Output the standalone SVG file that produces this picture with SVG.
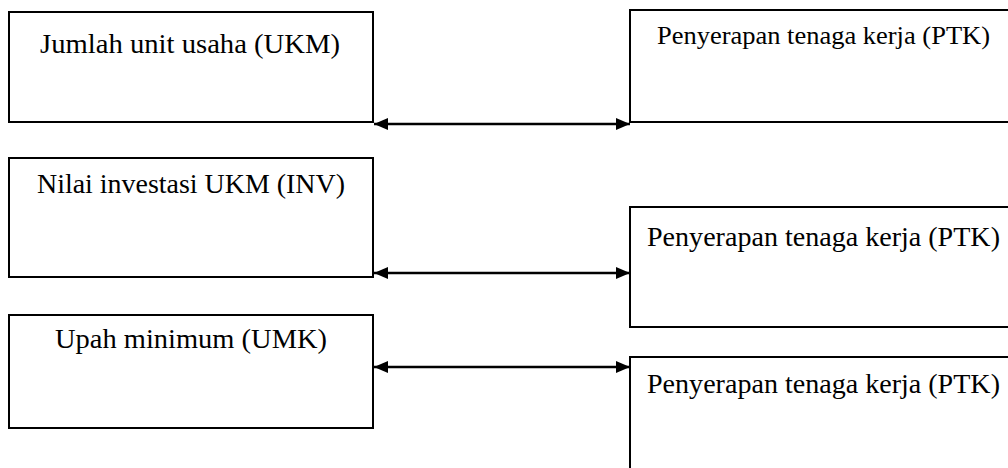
<svg xmlns="http://www.w3.org/2000/svg" width="1008" height="468" viewBox="0 0 1008 468">
  <style>
    .box { fill: #ffffff; stroke: #000000; stroke-width: 2; }
    .lbl { font-family: 'Liberation Serif', 'DejaVu Serif', 'Times New Roman', serif; fill: #000000; }
    .conn { stroke: #000000; stroke-width: 2.5; fill: none; }
  </style>
  <defs>
    <marker id="arr" viewBox="0 0 14 12" refX="14" refY="6" markerWidth="14" markerHeight="12" markerUnits="userSpaceOnUse" orient="auto-start-reverse">
      <path d="M0,0 L14,6 L0,12 Z" fill="#000000"/>
    </marker>
  </defs>
  <rect x="0" y="0" width="1008" height="468" fill="#ffffff"/>

  <g id="node-ukm">
    <rect class="box" x="9" y="12" width="364" height="110"/>
    <text class="lbl" font-family="Liberation Serif, serif" x="40" y="53" font-size="28" textLength="300" lengthAdjust="spacingAndGlyphs">Jumlah unit usaha (UKM)</text>
  </g>
  <g id="node-ptk1">
    <rect class="box" x="630" y="10" width="400" height="112"/>
    <text class="lbl" font-family="Liberation Serif, serif" x="657" y="44" font-size="26" textLength="333" lengthAdjust="spacingAndGlyphs">Penyerapan tenaga kerja (PTK)</text>
  </g>
  <g id="node-inv">
    <rect class="box" x="9" y="158" width="364" height="119"/>
    <text class="lbl" font-family="Liberation Serif, serif" x="37" y="193" font-size="28" textLength="308" lengthAdjust="spacingAndGlyphs">Nilai investasi UKM (INV)</text>
  </g>
  <g id="node-ptk2">
    <rect class="box" x="630" y="207" width="400" height="120"/>
    <text class="lbl" font-family="Liberation Serif, serif" x="647" y="246" font-size="28" textLength="353" lengthAdjust="spacingAndGlyphs">Penyerapan tenaga kerja (PTK)</text>
  </g>
  <g id="node-umk">
    <rect class="box" x="9" y="315" width="364" height="113"/>
    <text class="lbl" font-family="Liberation Serif, serif" x="55" y="348" font-size="28" textLength="272" lengthAdjust="spacingAndGlyphs">Upah minimum (UMK)</text>
  </g>
  <g id="node-ptk3">
    <rect class="box" x="630" y="357" width="400" height="130"/>
    <text class="lbl" font-family="Liberation Serif, serif" x="647" y="393" font-size="28" textLength="353" lengthAdjust="spacingAndGlyphs">Penyerapan tenaga kerja (PTK)</text>
  </g>

  <g id="connectors">
    <line class="conn" x1="374" y1="124" x2="630" y2="124" marker-start="url(#arr)" marker-end="url(#arr)"/>
    <line class="conn" x1="374" y1="273" x2="630" y2="273" marker-start="url(#arr)" marker-end="url(#arr)"/>
    <line class="conn" x1="374" y1="367" x2="630" y2="367" marker-start="url(#arr)" marker-end="url(#arr)"/>
  </g>
</svg>
